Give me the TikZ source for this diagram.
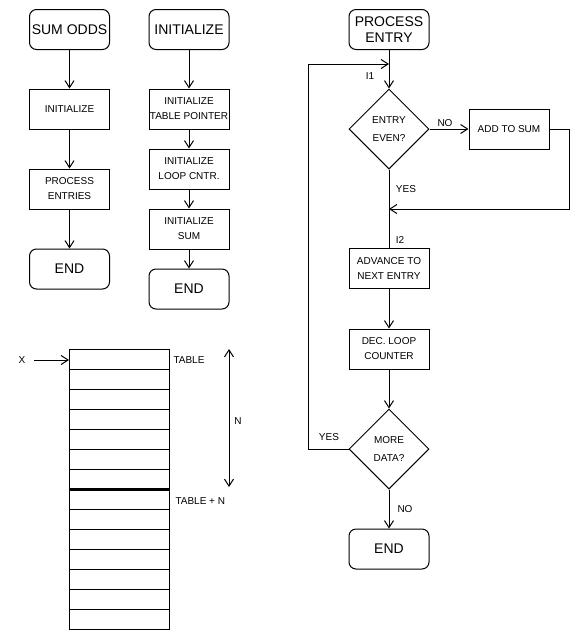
\documentclass[tikz,border=0pt]{standalone}
\usepackage{fontspec}
\setmainfont{Liberation Sans}
\usetikzlibrary{shapes.geometric,arrows.meta}
\tikzset{
	box/.style={draw, minimum width=80pt, minimum height=40pt, inner sep=0pt, align=center, font=\fontsize{10}{15}\selectfont},
	term/.style={box, rounded corners=7pt, font=\fontsize{14}{16}\selectfont},
	test/.style={draw, diamond, minimum width=80pt, minimum height=80pt, inner sep=0pt, align=center, font=\fontsize{10}{18}\selectfont},
	lbl/.style={inner sep=0pt, font=\fontsize{10}{12}\selectfont},
}
\begin{document}
\begin{tikzpicture}[x=1pt, y=-1pt, line width=1pt, >={Straight Barb[length=7pt,width=9pt]}]
				\useasboundingbox (0,0) rectangle (581,641);
				%sum odds
				\node[term] (sumodds) at (69.5, 29.5) {SUM ODDS};
				\node[box] (init) at (69.5, 109) {INITIALIZE};
				\node[box] (procall) at (69.5, 189) {PROCESS\\ENTRIES};
				\node[term] (endA) at (69.5, 269) {END};
				\draw[->] (sumodds) -- (init);
				\draw[->] (init) -- (procall);
				\draw[->] (procall) -- (endA);
				%initialize
				\node[term] (inithead) at (189, 29.5) {INITIALIZE};
				\node[box] (tblptr) at (189, 109) {INITIALIZE\\TABLE POINTER};
				\node[box] (loopcnt) at (189, 169) {INITIALIZE\\LOOP CNTR.};
				\node[box] (initsum) at (189, 229) {INITIALIZE\\SUM};
				\node[term] (endB) at (189, 289) {END};
				\draw[->] (inithead) -- (tblptr);
				\draw[->] (tblptr) -- (loopcnt);
				\draw[->] (loopcnt) -- (initsum);
				\draw[->] (initsum) -- (endB);
				%process entry
				\node[term] (prochead) at (389, 29.5) {PROCESS\\ENTRY};
				\node[test] (even) at (389, 129) {ENTRY\\EVEN?};
				\node[box] (addsum) at (509, 129) {ADD TO SUM};
				\node[box] (advance) at (389, 268.5) {ADVANCE TO\\NEXT ENTRY};
				\node[box] (declc) at (389, 349) {DEC. LOOP\\COUNTER};
				\node[test] (more) at (389, 449) {MORE\\DATA?};
				\node[term] (endC) at (389, 549) {END};
				\coordinate (i1) at (389, 64);
				\coordinate (i2) at (389, 209);
				\draw[->] (prochead) -- (even);
				\draw[->] (even) -- (addsum);
				\draw[->] (addsum.east) -- ++(20, 0) |- (i2);
				\draw (even) -- (advance);
				\draw[->] (advance) -- (declc);
				\draw[->] (declc) -- (more);
				\draw[->] (more) -- (endC);
				\draw[->] (more.west) -- ++(-40, 0) |- (i1);
				\node[lbl] (lI1) at (370, 76) {I1};
				\node[lbl] (lno) at (445, 123) {NO};
				\node[lbl] (lyes) at (406, 189) {YES};
				\node[lbl] (lI2) at (400, 240) {I2};
				\node[lbl] (lyes2) at (329, 437) {YES};
				\node[lbl] (lno2) at (405, 509) {NO};
				%table
				\draw (69, 349) rectangle (169, 629);
				\foreach \y in {369, 389, ..., 609} {
					\draw (69, \y) -- (169, \y);
				}
				\draw[line width=3pt] (69, 489) -- (169, 489);
				\node[lbl] (xname) at (22, 360) {X};
				\coordinate (row0) at (69, 360);
				\draw[->] (34, 360) -- (row0);
				\node[lbl, anchor=west] (tbl) at (173, 360) {TABLE};
				\node[lbl, anchor=west] (tbln) at (175, 501) {TABLE + N};
				\coordinate (ntop) at (229, 349);
				\coordinate (nbot) at (229, 487);
				\draw[<->] (ntop) -- (nbot);
				\node[lbl] (nlen) at (238, 421) {N};
\end{tikzpicture}
\end{document}
